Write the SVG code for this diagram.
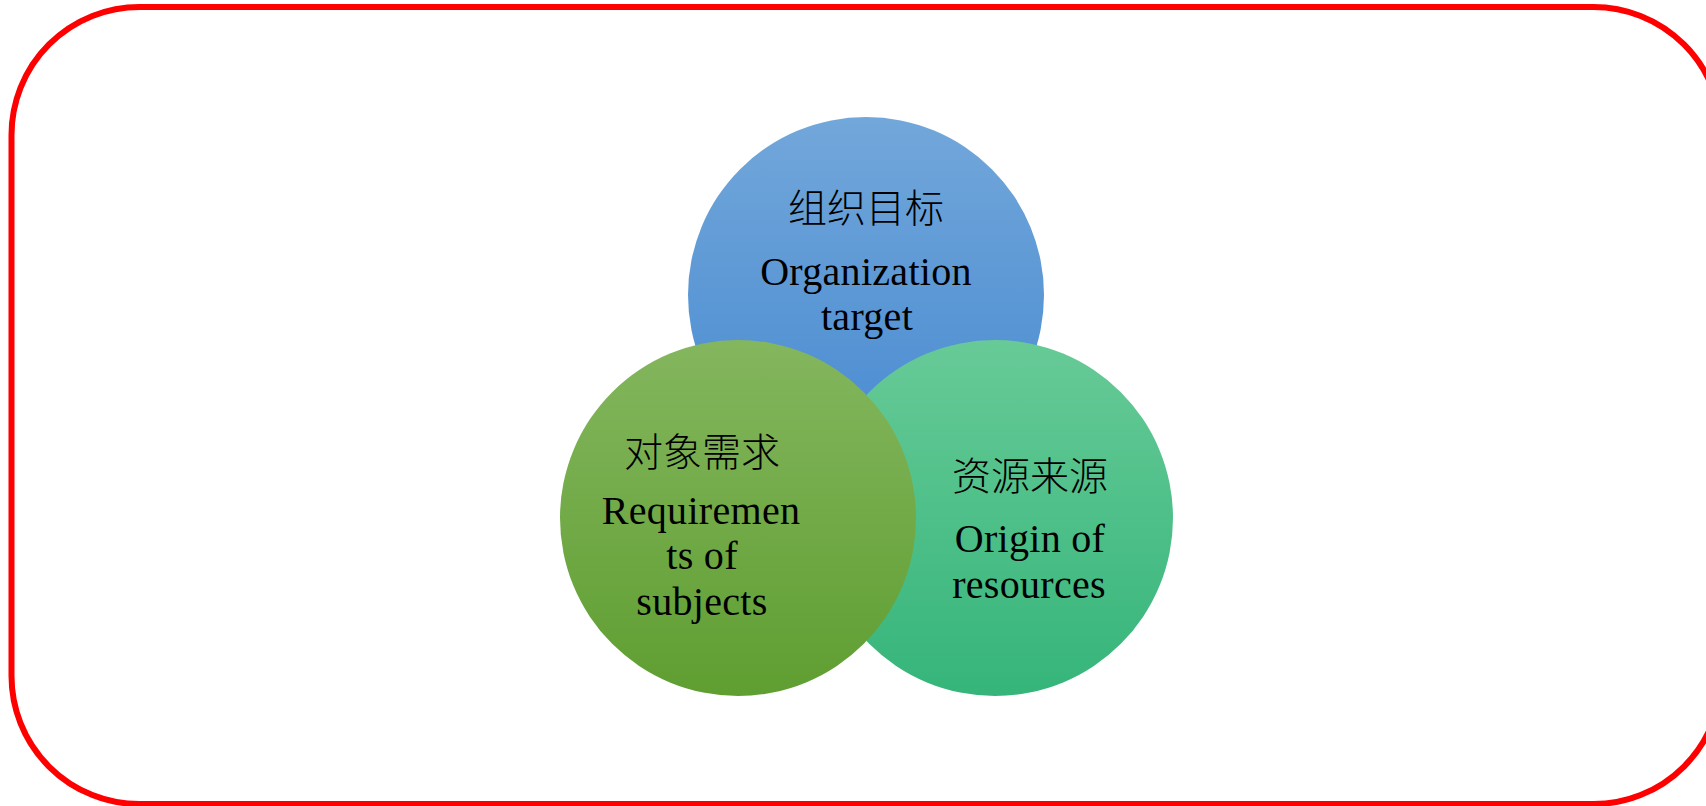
<svg xmlns="http://www.w3.org/2000/svg" width="1706" height="806" viewBox="0 0 1706 806">
  <defs>
    <linearGradient id="gradBlue" x1="0" y1="0" x2="0" y2="1">
      <stop offset="0" stop-color="#72A7DA"/>
      <stop offset="1" stop-color="#4689D1"/>
    </linearGradient>
    <linearGradient id="gradGreen" x1="0" y1="0" x2="0" y2="1">
      <stop offset="0" stop-color="#84B65E"/>
      <stop offset="1" stop-color="#5F9E31"/>
    </linearGradient>
    <linearGradient id="gradTeal" x1="0" y1="0" x2="0" y2="1">
      <stop offset="0" stop-color="#67CA97"/>
      <stop offset="1" stop-color="#35B57A"/>
    </linearGradient>
  </defs>
  <style>
    .frame { fill: none; stroke: #FF0000; stroke-width: 6; }
    .cn { font-family: "Liberation Serif", "Noto Sans CJK SC", serif; font-size: 39px; font-weight: 300; fill: #000; text-anchor: middle; }
    .en { font-family: "Liberation Serif", "Noto Sans CJK SC", serif; font-size: 40px; fill: #000; text-anchor: middle; letter-spacing: 0.3px; }
  </style>

  <rect width="1706" height="806" fill="#FFFFFF"/>

  <!-- rounded outer frame (right side runs past the canvas edge) -->
  <rect class="frame" x="11.5" y="7" width="1710" height="797" rx="128" ry="128"/>

  <!-- no connectors in this diagram -->
  <g id="connectors"/>

  <g id="node-organization-target">
    <circle cx="866" cy="295" r="178" fill="url(#gradBlue)"/>
  </g>

  <g id="node-origin-of-resources">
    <circle cx="995" cy="518" r="178" fill="url(#gradTeal)"/>
  </g>

  <g id="node-requirements-of-subjects">
    <circle cx="738" cy="518" r="178" fill="url(#gradGreen)"/>
  </g>

  <!-- labels -->
  <g id="label-organization-target">
    <text class="cn" x="866" y="222">组织目标</text>
    <text class="en" x="866" y="285">Organization</text>
    <text class="en" x="867" y="330">target</text>
  </g>

  <g id="label-requirements-of-subjects">
    <text class="cn" x="702" y="466">对象需求</text>
    <text class="en" x="701" y="524">Requiremen</text>
    <text class="en" x="702" y="569">ts of</text>
    <text class="en" x="702" y="615">subjects</text>
  </g>

  <g id="label-origin-of-resources">
    <text class="cn" x="1030" y="490">资源来源</text>
    <text class="en" x="1030" y="552">Origin of</text>
    <text class="en" x="1029" y="598">resources</text>
  </g>
</svg>
